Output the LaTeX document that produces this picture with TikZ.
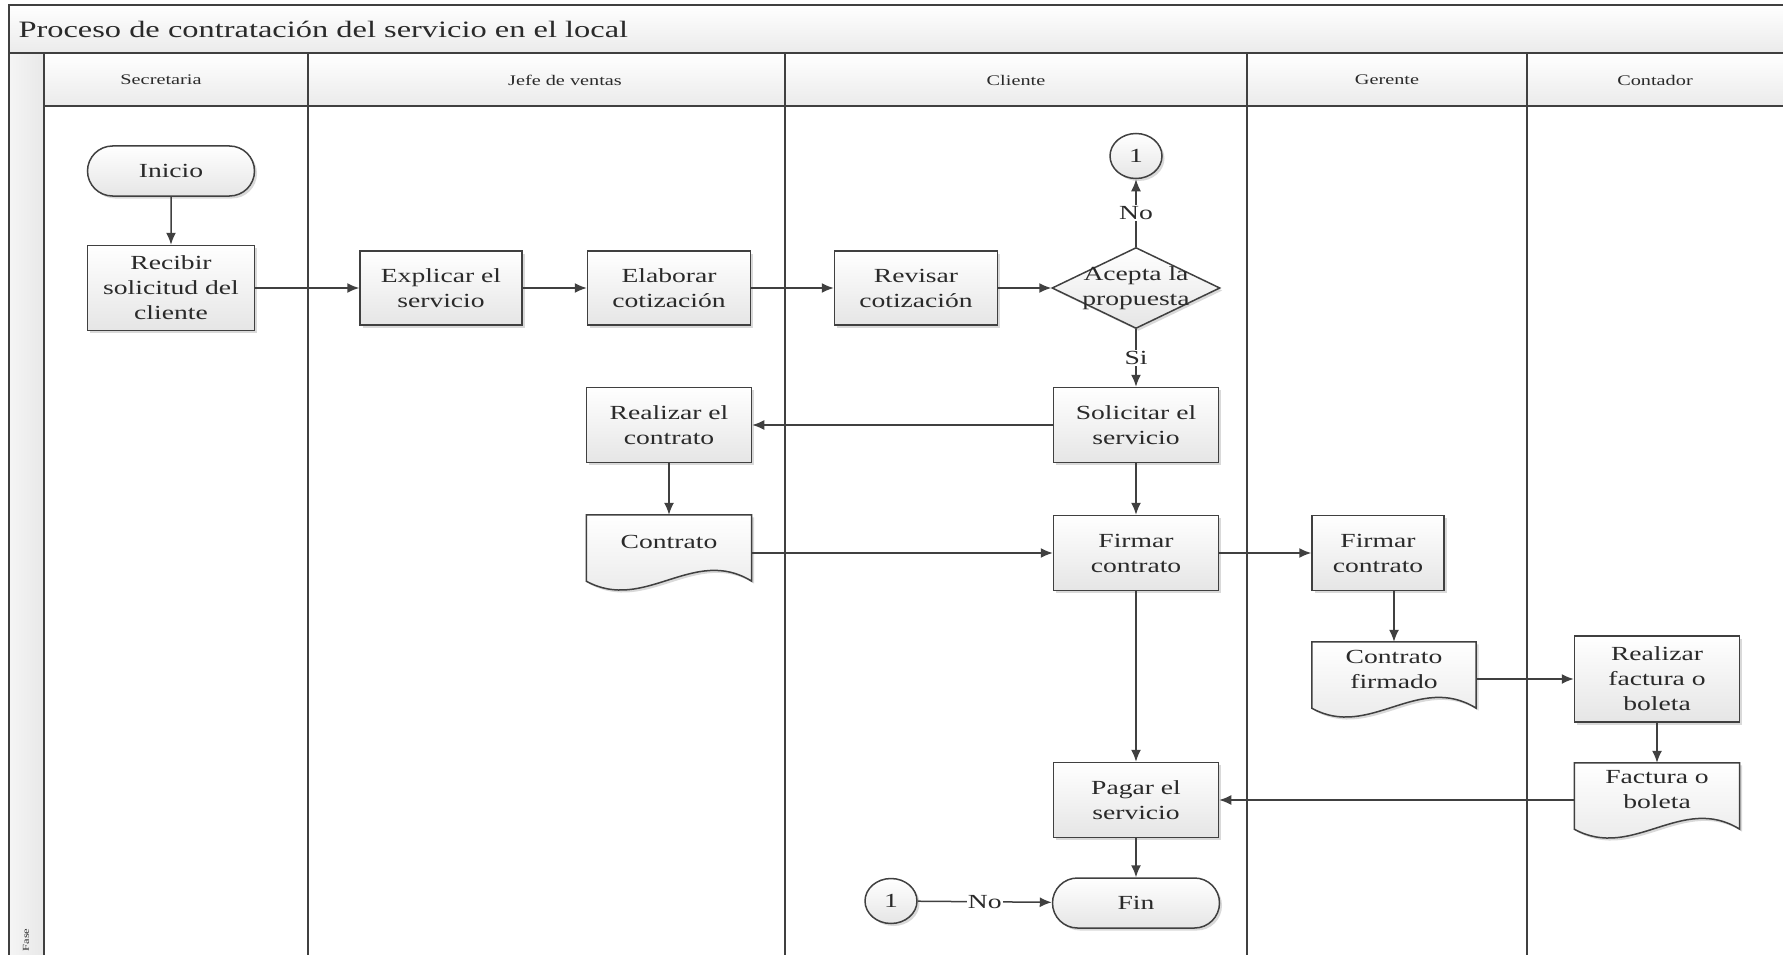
\documentclass[tikz,border=0pt]{standalone}
\usepackage{fontspec}
\setmainfont{Liberation Serif}[FakeStretch=1.38]
\usetikzlibrary{shapes.geometric,shapes.misc,arrows.meta,shadows,calc}
\pgfdeclarelayer{lanes}
\pgfdeclarelayer{docs}
\pgfsetlayers{lanes,docs,main}
\newcommand\ndfont{\fontsize{20}{25}\selectfont}
\newcommand\hdfont{\fontsize{14.7}{18}\selectfont}
\newcommand\ttlfont{\fontsize{23.5}{28}\selectfont}
\definecolor{ink}{HTML}{404040}
\definecolor{txt}{HTML}{2A2A2A}
\tikzset{
 ln/.style={draw=ink, line width=1.5pt},
 shd/.style={drop shadow={shadow xshift=2.5pt, shadow yshift=-2.5pt, opacity=0.15, fill=black}},
 grad/.style={top color=white, bottom color=black!10},
 proc/.style={rectangle, ln, grad, shd, minimum width=165, minimum height=75, inner sep=0, align=center, font=\ndfont, text=txt},
 term/.style={rounded rectangle, ln, grad, shd, minimum width=167, minimum height=50, inner sep=0, font=\ndfont, text=txt},
 conn/.style={ellipse, ln, grad, shd, minimum width=52, minimum height=45, inner sep=0, font=\ndfont, text=txt},
 dec/.style={diamond, ln, grad, shd, minimum width=168, minimum height=81, inner sep=0, font=\ndfont, text=txt},
 docn/.style={rectangle, minimum width=165, minimum height=54, inner sep=0, align=center, font=\ndfont, text=txt},
 arr/.style={draw=ink, line width=1.5pt, -{Latex[length=12pt,width=10pt]}},
 lbl/.style={fill=white, inner sep=1pt, font=\ndfont, text=txt},
 lane/.style={draw=ink, line width=1.6pt},
 hdr/.style={font=\hdfont, text=txt},
}
\newcommand\docout[1]{%
 \path[ln,grad,shd] (#1.north west) -- (#1.north east) -- ([yshift=-12pt]#1.south east)
  .. controls ([xshift=-58pt,yshift=24pt]#1.south east) and ([xshift=-107pt,yshift=-44pt]#1.south east)
  .. ([yshift=-12pt]#1.south west) -- cycle;}
\newcommand\dectext{\smash{\raisebox{-5pt}{\makebox[0pt]{\begin{tabular}{@{}c@{}}Acepta la\\propuesta\end{tabular}}}}}
\begin{document}
\begin{tikzpicture}[x=1pt,y=-1pt]
\useasboundingbox (0,0) rectangle (1783,955);
\clip (0,0) rectangle (1783,955);
\begin{pgfonlayer}{lanes}
 \path[top color=white, bottom color=black!8] (9,5) rectangle (1800,53);
 \path[top color=white, bottom color=black!8] (44,53) rectangle (1800,106);
 \path[left color=black!4, right color=black!9] (9,53) rectangle (44,960);
 \draw[lane] (1800,5) -- (9,5) -- (9,960);
 \draw[lane] (9,53) -- (1800,53);
 \draw[lane] (44,106) -- (1800,106);
 \foreach \xx in {44,308,785,1247,1527} \draw[lane] (\xx,53) -- (\xx,960);
\end{pgfonlayer}
\node[anchor=west, font=\ttlfont, text=txt] (title) at (15,29) {Proceso de contratación del servicio en el local};
\node[hdr] (h1) at (161,80) {Secretaria};
\node[hdr] (h2) at (565,80) {Jefe de ventas};
\node[hdr] (h3) at (1016,80) {Cliente};
\node[hdr] (h4) at (1387,80) {Gerente};
\node[hdr] (h5) at (1655,80) {Contador};
\node[rotate=90, font=\fontsize{9}{10}\selectfont, text=txt] (fase) at (26,940) {Fase};
% nodes
\node[term] (ini) at (171,171) {Inicio};
\node[proc, minimum width=167, minimum height=85] (rec) at (171,288) {Recibir\\solicitud del\\cliente};
\node[proc, minimum width=162, minimum height=74] (exp) at (441,288) {Explicar el\\servicio};
\node[proc, minimum width=163, minimum height=74] (ela) at (669,288) {Elaborar\\cotización};
\node[proc, minimum width=163, minimum height=74] (rev) at (916,288) {Revisar\\cotización};
\node[dec] (acp) at (1136,288) {\dectext};
\node[conn] (c1a) at (1136,156) {1};
\node[proc] (sol) at (1136,425) {Solicitar el\\servicio};
\node[proc] (rea) at (669,425) {Realizar el\\contrato};
\node[docn] (cdoc) at (669,542) {Contrato};
\node[proc] (fcl) at (1136,553) {Firmar\\contrato};
\node[proc, minimum width=132] (fge) at (1378,553) {Firmar\\contrato};
\node[docn, minimum width=164] (cfi) at (1394,669) {Contrato\\firmado};
\node[proc, minimum height=86] (rfb) at (1657,679) {Realizar\\factura o\\boleta};
\node[docn] (fbo) at (1657,790) {Factura o\\boleta};
\node[proc] (pag) at (1136,800) {Pagar el\\servicio};
\node[term] (fin) at (1136,903) {Fin};
\node[conn] (c1b) at (891,901) {1};
\begin{pgfonlayer}{docs}
 \docout{cdoc}
 \docout{cfi}
 \docout{fbo}
\end{pgfonlayer}
% connectors
\draw[arr] (ini) -- (rec);
\draw[arr] (rec) -- (exp);
\draw[arr] (exp) -- (ela);
\draw[arr] (ela) -- (rev);
\draw[arr] (rev) -- (acp);
\draw[arr] (acp.north) -- node[lbl] {No} (c1a);
\draw[arr] (acp.south) -- node[lbl] {Si} (sol);
\draw[arr] (sol) -- (rea);
\draw[arr] (rea) -- (cdoc.north);
\draw[arr] (sol) -- (fcl);
\draw[arr] (cdoc.east |- fcl.west) -- (fcl.west);
\draw[arr] (fcl) -- (fge);
\draw[arr] (fge.south -| cfi.north) -- (cfi.north);
\draw[arr] (cfi.east |- rfb.west) -- (rfb.west);
\draw[arr] (rfb) -- (fbo.north);
\draw[arr] (fbo.west |- pag.east) -- (pag.east);
\draw[arr] (fcl) -- (pag);
\draw[arr] (pag) -- (fin);
\draw[arr] (c1b) -- node[lbl] {No} (fin);
\end{tikzpicture}
\end{document}
